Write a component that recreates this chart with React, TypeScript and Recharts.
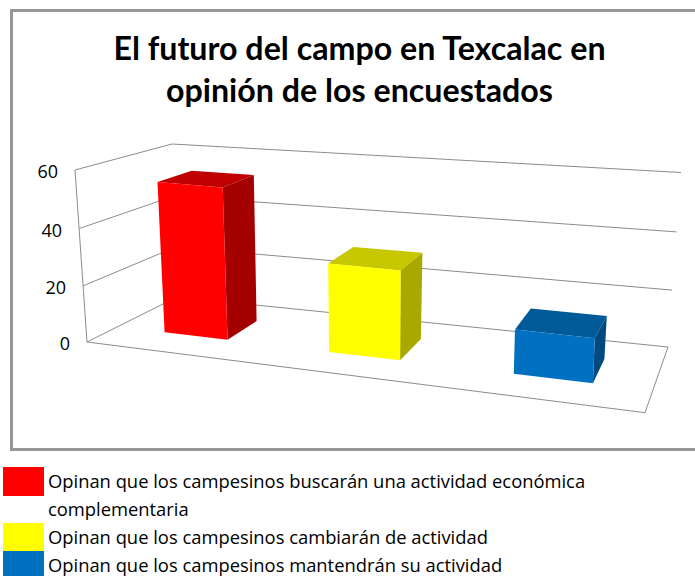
import React from "react";
import { BarChart, Bar, XAxis, YAxis, CartesianGrid } from "recharts";

const CATEGORIES = [
  "Opinan que los campesinos buscarán una actividad económica complementaria",
  "Opinan que los campesinos cambiarán de actividad",
  "Opinan que los campesinos mantendrán su actividad",
];
const VALUES = [54, 31, 15];
const Y_TICKS = [0, 20, 40, 60];
const FRONT_COLORS = ["#ff0000", "#ffff00", "#0070c0"];
const TOP_COLORS = ["#c00000", "#c8c800", "#005a98"];
const SIDE_COLORS = ["#a40000", "#a8a800", "#004a80"];
const TITLE_LINES = ["El futuro del campo en Texcalac en", "opinión de los encuestados"];

const data = CATEGORIES.map((name, i) => ({ name, value: VALUES[i] }));

const WIDTH = 695;
const HEIGHT = 576;
// the plot rect is the front plane of the 3d box
const PLOT = { left: 87, right: 645, top: 170, bottom: 342 };
const GRID_COLOR = "#8c8c8c";
const BAR_DEPTH = [0.34, 0.72];
const BAR_SHIFT = 2;

const mix = (a: number, b: number, t: number) => a + (b - a) * t;

const bilinear = (c: number[][], u: number, d: number) => {
  const [fl, fr, bl, br] = c;
  return [
    mix(mix(fl[0], fr[0], u), mix(bl[0], br[0], u), d),
    mix(mix(fl[1], fr[1], u), mix(bl[1], br[1], u), d),
  ];
};

// floor corners and the up vector at each of them: front left, front right, back left, back right
const FLOOR = [[87, 342], [645, 412.7], [177, 297], [668, 347]];
const UP = [[-12, -172], [9, -193], [-5, -153], [13, -174.5]];

// maps a plot pixel plus a depth (0 front, 1 back) to the page
const project = (px: number, py: number, depth: number) => {
  const u0 = (px - PLOT.left) / (PLOT.right - PLOT.left);
  const u = u0 - 0.17 * u0 * (1 - u0);
  const f0 = (PLOT.bottom - py) / (PLOT.bottom - PLOT.top);
  const f = f0 - 0.033 * f0 * (1 - f0);
  const base = bilinear(FLOOR, u, depth);
  const up = bilinear(UP, u, depth);
  return [base[0] + up[0] * f, base[1] + up[1] * f];
};

const pts = (list: number[][]) => list.map((p) => `${p[0].toFixed(1)},${p[1].toFixed(1)}`).join(" ");

const Box = (props: any) => {
  const { y, width, height, index } = props;
  const x = props.x + BAR_SHIFT;
  const [d0, d1] = BAR_DEPTH;
  const r = x + width;
  const b = y + height;
  return (
    <g>
      <polygon
        points={pts([project(x, y, d0), project(r, y, d0), project(r, y, d1), project(x, y, d1)])}
        fill={TOP_COLORS[index]}
      />
      <polygon
        points={pts([project(r, y, d0), project(r, b, d0), project(r, b, d1), project(r, y, d1)])}
        fill={SIDE_COLORS[index]}
      />
      <polygon
        points={pts([project(x, y, d0), project(r, y, d0), project(r, b, d0), project(x, b, d0)])}
        fill={FRONT_COLORS[index]}
      />
    </g>
  );
};

const GridLine = (props: any) => {
  const { x1, x2, y1 } = props;
  const isFloor = Math.abs(y1 - PLOT.bottom) < 0.5;
  const isTop = Math.abs(y1 - PLOT.top) < 0.5;
  const wall = [project(x1, y1, 0), project(x1, y1, 1), project(x2, y1, 1)];
  return (
    <g>
      <polyline points={pts(wall)} fill="none" stroke={GRID_COLOR} strokeWidth={1} />
      {isFloor && (
        <polyline
          points={pts([project(x1, y1, 0), project(x2, y1, 0), project(x2, y1, 1)])}
          fill="none"
          stroke={GRID_COLOR}
          strokeWidth={1}
        />
      )}
      {isTop && (
        <line
          x1={project(x1, PLOT.top, 0)[0]}
          y1={project(x1, PLOT.top, 0)[1]}
          x2={project(x1, PLOT.bottom, 0)[0]}
          y2={project(x1, PLOT.bottom, 0)[1]}
          stroke={GRID_COLOR}
          strokeWidth={1}
        />
      )}
    </g>
  );
};

const YTick = (props: any) => {
  const { y, payload } = props;
  const p = project(PLOT.left, y, 0);
  return (
    <text x={p[0] - 17} y={p[1] + 8} textAnchor="end" fontSize={18} fill="#000" fontFamily="'Open Sans', sans-serif">
      {payload.value}
    </text>
  );
};

export default function App() {
  return (
    <div style={{ position: "absolute", left: 0, top: 0, width: WIDTH, height: HEIGHT, overflow: "hidden", background: "#fff" }}>
      <div
        style={{
          position: "absolute",
          left: 10,
          top: 9,
          width: WIDTH,
          height: 436,
          border: "3px solid #969696",
          boxSizing: "content-box",
        }}
      />
      <div
        style={{
          position: "absolute",
          left: 0,
          top: 27,
          width: 719,
          textAlign: "center",
          fontFamily: "Lato, sans-serif",
          fontWeight: 700,
          fontSize: 32.2,
          lineHeight: "42px",
          color: "#000",
        }}
      >
        {TITLE_LINES.map((line) => (
          <div key={line}>{line}</div>
        ))}
      </div>
      <div style={{ position: "absolute", left: 0, top: 0 }}>
        <BarChart
          width={WIDTH}
          height={HEIGHT}
          data={data}
          barCategoryGap="30%"
          margin={{
            top: PLOT.top,
            left: 0,
            right: WIDTH - PLOT.right,
            bottom: HEIGHT - PLOT.bottom,
          }}
        >
          <CartesianGrid horizontal={GridLine} vertical={false} />
          <XAxis dataKey="name" hide />
          <YAxis
            width={PLOT.left}
            domain={[0, 60]}
            ticks={Y_TICKS}
            axisLine={false}
            tickLine={false}
            tick={YTick}
          />
          <Bar dataKey="value" shape={Box} isAnimationActive={false} />
        </BarChart>
      </div>
      <div
        style={{
          position: "absolute",
          left: 3,
          top: 467,
          width: 692,
          fontFamily: "'Open Sans', sans-serif",
          fontSize: 18.37,
          lineHeight: "28px",
          color: "#000",
        }}
      >
        {CATEGORIES.map((name, i) => (
          <div key={name} style={{ position: "relative", paddingLeft: 45, paddingRight: 90 }}>
            <span
              style={{
                position: "absolute",
                left: 0,
                top: 0,
                width: 41,
                height: 28.5,
                background: FRONT_COLORS[i],
              }}
            />
            {name}
          </div>
        ))}
      </div>
    </div>
  );
}
